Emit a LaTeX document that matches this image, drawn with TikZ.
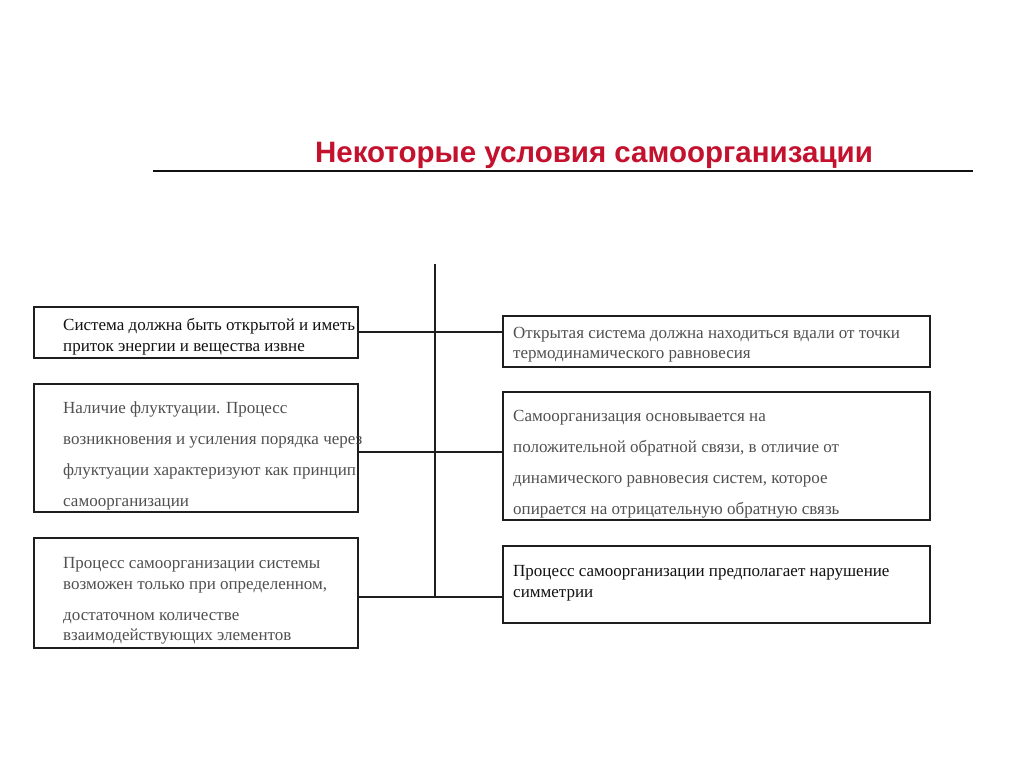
\documentclass[tikz,border=0pt]{standalone}
\usepackage{fontspec}
\setmainfont{Liberation Serif}
\newfontfamily\headfont{Liberation Sans}
\definecolor{Heading}{HTML}{C3112E}
\definecolor{Frame}{HTML}{1E1E1E}
\definecolor{Ink}{HTML}{111111}
\definecolor{Muted}{HTML}{505050}

\begin{document}
\begin{tikzpicture}[x=1pt,y=-1pt,font=\fontsize{17}{20.5}\selectfont,
  frame/.style={draw=Frame,line width=1.4pt,inner sep=0pt},
  txt/.style={anchor=north west,inner sep=0pt,align=left},
  link/.style={draw=Frame,line width=1.3pt}]
\fill[white] (0,0) rectangle (1024,768);
\node[font=\headfont\bfseries\fontsize{29.5}{33}\selectfont,text=Heading] (title) at (594,155){Некоторые условия самоорганизации};
\coordinate (ruleL) at (153,171);\coordinate (ruleR) at (973,171);
\draw[Ink,line width=1.3pt] (ruleL)--(ruleR);
\node[frame,minimum width=324,minimum height=51] (l1) at (196,332.5){};
\node[frame,minimum width=324,minimum height=128] (l2) at (196,448){};
\node[frame,minimum width=324,minimum height=110] (l3) at (196,593){};
\node[frame,minimum width=427,minimum height=51] (r1) at (716.5,341.5){};
\node[frame,minimum width=427,minimum height=128] (r2) at (716.5,456){};
\node[frame,minimum width=427,minimum height=77] (r3) at (716.5,584.5){};
\node[txt,text=Ink] (l1t) at (63,318.5){Система должна быть открытой и иметь\\приток энергии и вещества извне};
\node[txt,text=Muted] (l2t) at (63,401){Наличие флуктуации. Процесс\\[10.5pt]возникновения и усиления порядка через\\[10.5pt]флуктуации характеризуют как принцип\\[10.5pt]самоорганизации};
\node[txt,text=Muted] (l3t) at (63,557.5){Процесс самоорганизации системы\\возможен только при определенном,\\[10.5pt]достаточном количестве\\взаимодействующих элементов};
\node[txt,text=Muted] (r1t) at (513,327){Открытая система должна находиться вдали от точки\\термодинамического равновесия};
\node[txt,text=Muted] (r2t) at (513,410){Самоорганизация основывается на\\[10.5pt]положительной обратной связи, в отличие от\\[10.5pt]динамического равновесия систем, которое\\[10.5pt]опирается на отрицательную обратную связь};
\node[txt,text=Ink] (r3t) at (513,565.5){Процесс самоорганизации предполагает нарушение\\симметрии};
\coordinate (trunk) at (435,264);\coordinate (j1) at (435,332);\coordinate (j2) at (435,452);\coordinate (j3) at (435,597);
\draw[link] (trunk)--(j3);
\draw[link] (j1 -| l1.east)--(j1 -| r1.west);
\draw[link] (j2 -| l2.east)--(j2 -| r2.west);
\draw[link] (j3 -| l3.east)--(j3 -| r3.west);
\end{tikzpicture}
\end{document}
